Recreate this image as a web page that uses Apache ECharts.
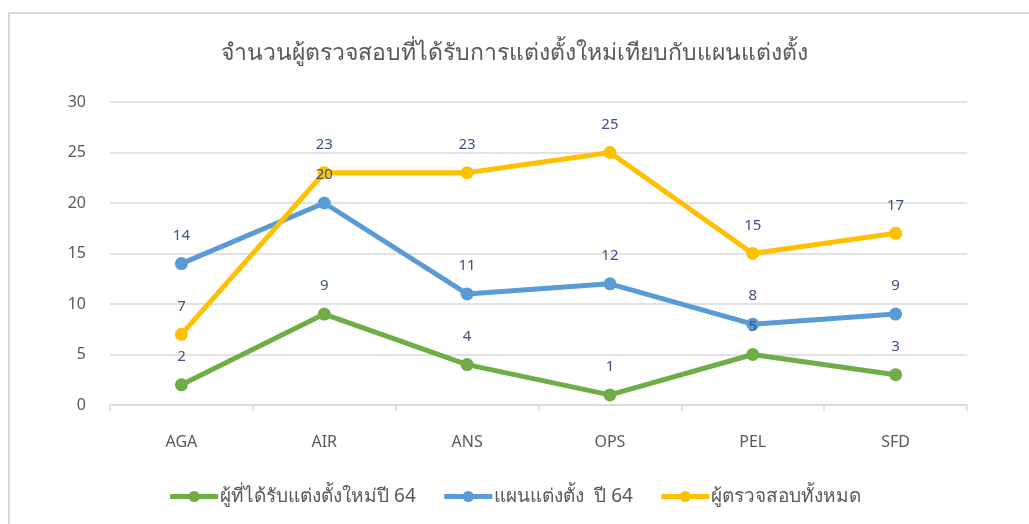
<!DOCTYPE html>
<html>
<head>
<meta charset="utf-8">
<script src="https://cdn.jsdelivr.net/npm/echarts@6/dist/echarts.min.js"></script>
<style>
  html, body { margin: 0; padding: 0; background: #fff; }
  #chart { width: 1029px; height: 524px; }
</style>
</head>
<body>
<div id="chart"></div>
<script>
const categories = ['AGA', 'AIR', 'ANS', 'OPS', 'PEL', 'SFD'];
const newAppointed = [2, 9, 4, 1, 5, 3];
const planned = [14, 20, 11, 12, 8, 9];
const totalAuditors = [7, 23, 23, 25, 15, 17];

const seriesNames = ['ผู้ที่ได้รับแต่งตั้งใหม่ปี 64', 'แผนแต่งตั้ง  ปี 64', 'ผู้ตรวจสอบทั้งหมด'];
const colors = ['#70ad47', '#5b9bd5', '#ffc000'];
const font = "'Noto Sans', 'Open Sans', sans-serif";

const makeSeries = (name, data, color) => ({
    name,
    type: 'line',
    data,
    symbol: 'circle',
    symbolSize: 13,
    lineStyle: { width: 5, color },
    itemStyle: { color },
    label: {
        show: true,
        position: 'top',
        distance: 14,
        color: '#3b5285',
        fontSize: 15,
        fontFamily: font
    }
});

const chart = echarts.init(document.getElementById('chart'));
chart.setOption({
    animation: false,
    color: colors,
    title: {
        text: 'จำนวนผู้ตรวจสอบที่ได้รับการแต่งตั้งใหม่เทียบกับแผนแต่งตั้ง',
        left: 'center',
        top: 37,
        textStyle: { color: '#595959', fontSize: 23, fontWeight: 'normal', fontFamily: font }
    },
    graphic: [{
        type: 'rect',
        shape: { x: 9, y: 13, width: 1100, height: 600 },
        style: { fill: 'none', stroke: '#d9d9d9', lineWidth: 2 },
        silent: true
    }],
    legend: {
        bottom: 13,
        left: 'center',
        itemWidth: 48,
        itemHeight: 14,
        itemGap: 26,
        lineStyle: { width: 5 },
        textStyle: { color: '#595959', fontSize: 19, fontFamily: font, padding: [0, 0, 0, -3] }
    },
    grid: { left: 110, right: 62, top: 102, bottom: 119 },
    xAxis: {
        type: 'category',
        data: categories,
        axisLine: { lineStyle: { color: '#d9d9d9', width: 1.5 } },
        axisTick: { show: true, length: 6, lineStyle: { color: '#d9d9d9', width: 1.5 } },
        axisLabel: { color: '#595959', fontSize: 16, margin: 29, fontFamily: font }
    },
    yAxis: {
        type: 'value',
        min: 0,
        max: 30,
        interval: 5,
        axisLine: { show: false },
        axisTick: { show: false },
        axisLabel: { color: '#595959', fontSize: 16, margin: 24, fontFamily: font },
        splitLine: { lineStyle: { color: '#d9d9d9', width: 1.5 } }
    },
    series: [
        makeSeries(seriesNames[0], newAppointed, colors[0]),
        makeSeries(seriesNames[1], planned, colors[1]),
        makeSeries(seriesNames[2], totalAuditors, colors[2])
    ]
});
</script>
</body>
</html>
